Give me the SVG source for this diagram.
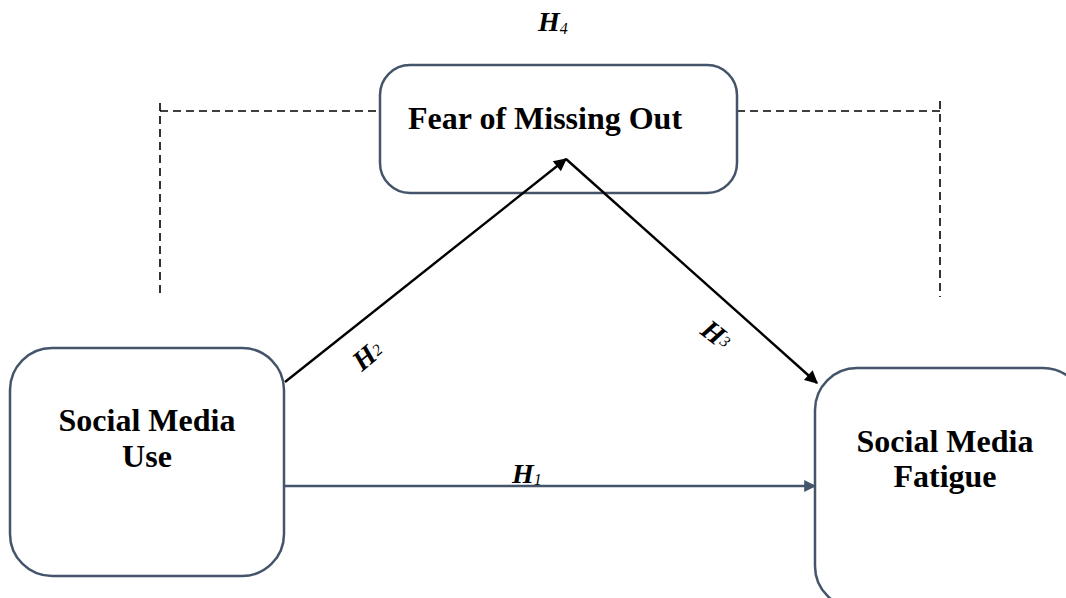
<svg xmlns="http://www.w3.org/2000/svg" width="1066" height="598" viewBox="0 0 1066 598">
  <style>
    .box { fill: #ffffff; stroke: #44546A; stroke-width: 2.5; }
    .label { font-family: "Liberation Serif", "Times New Roman", serif; font-weight: bold; font-size: 32px; fill: #000000; }
    .hyp { font-family: "Liberation Serif", "Times New Roman", serif; font-weight: bold; font-style: italic; font-size: 28px; fill: #000000; }
    .sub { font-weight: normal; font-size: 16px; }
    .dash { fill: none; stroke: #000000; stroke-width: 1.6; stroke-dasharray: 8 5; }
    .path-black { fill: none; stroke: #000000; stroke-width: 2.4; }
    .path-slate { fill: none; stroke: #44546A; stroke-width: 2.4; }
  </style>
  <defs>
    <marker id="head-black" viewBox="0 0 10 10" refX="9" refY="5" markerWidth="15" markerHeight="13" markerUnits="userSpaceOnUse" orient="auto">
      <path d="M0,0 L10,5 L0,10 z" fill="#000000"/>
    </marker>
    <marker id="head-slate" viewBox="0 0 10 10" refX="9" refY="5" markerWidth="13" markerHeight="12" markerUnits="userSpaceOnUse" orient="auto">
      <path d="M0,0 L10,5 L0,10 z" fill="#44546A"/>
    </marker>
  </defs>

  <!-- moderation bracket (H4) -->
  <g id="moderation">
    <path class="dash" d="M160,293 L160,103"/>
    <path class="dash" d="M160,111 L380,111"/>
    <path class="dash" d="M737,111 L940,111"/>
    <path class="dash" d="M940,101 L940,297"/>
  </g>

  <g id="node-fomo">
    <rect class="box" x="380" y="65" width="357" height="128" rx="30" ry="30"/>
    <text class="label" x="408" y="129">Fear of Missing Out</text>
  </g>

  <g id="node-smu">
    <rect class="box" x="10" y="348" width="274" height="228" rx="42" ry="42"/>
    <text class="label" x="147" y="431" text-anchor="middle">Social Media</text>
    <text class="label" x="147" y="467" text-anchor="middle">Use</text>
  </g>

  <g id="node-smf">
    <rect class="box" x="815" y="368" width="270" height="240" rx="42" ry="42"/>
    <text class="label" x="945" y="452" text-anchor="middle">Social Media</text>
    <text class="label" x="945" y="487" text-anchor="middle">Fatigue</text>
  </g>

  <g id="connectors">
    <line class="path-black" x1="285" y1="382" x2="566" y2="159" marker-end="url(#head-black)"/>
    <line class="path-black" x1="566" y1="159" x2="817" y2="383" marker-end="url(#head-black)"/>
    <line class="path-slate" x1="284" y1="486" x2="815" y2="486" marker-end="url(#head-slate)"/>
  </g>

  <g id="hypotheses">
    <text class="hyp" x="538" y="31">H<tspan class="sub" dy="3">4</tspan></text>
    <text class="hyp" x="512" y="483">H<tspan class="sub" dy="2">1</tspan></text>
    <text class="hyp" transform="translate(362,372) rotate(-40)">H<tspan class="sub" dy="-2">2</tspan></text>
    <text class="hyp" transform="translate(699,333) rotate(38)">H<tspan class="sub" dy="-4">3</tspan></text>
  </g>
</svg>
